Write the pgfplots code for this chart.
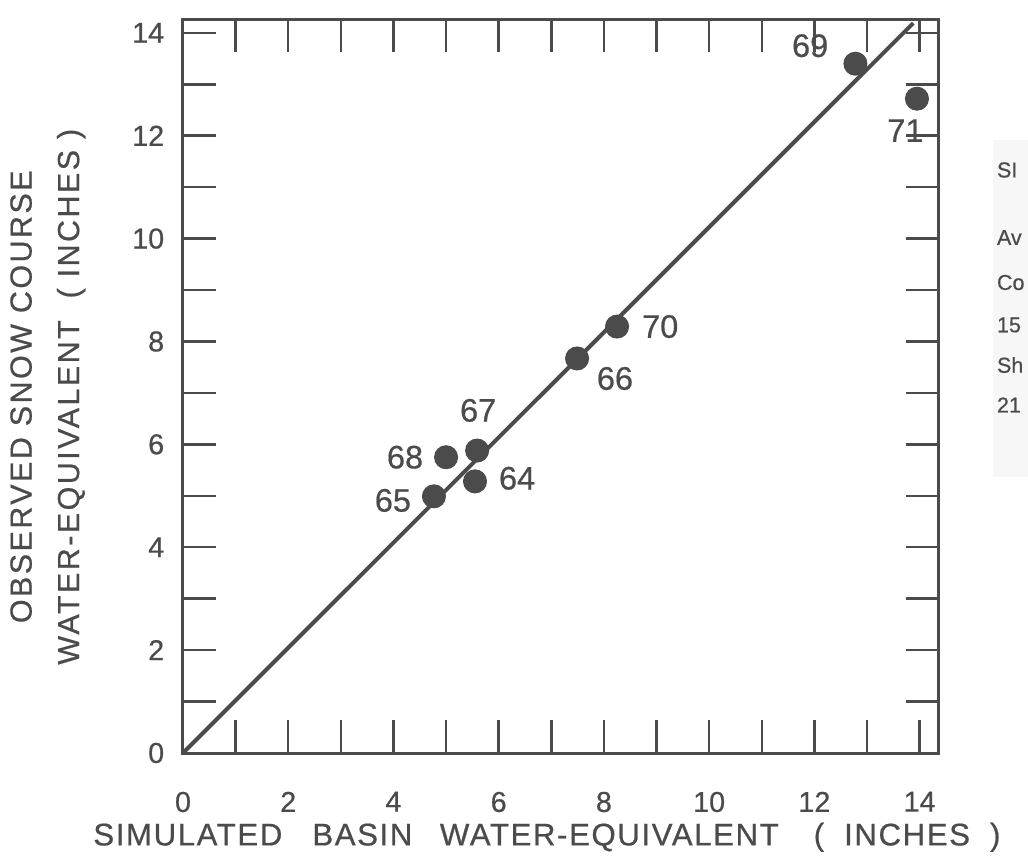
\documentclass[border=0pt]{standalone}
\usepackage{fontspec}
\setmainfont{Liberation Sans}[FakeBold=0.6]
\newfontfamily\labfont[LetterSpace=8, FakeBold=0.6]{Liberation Sans}
\newfontfamily\xlabfont[LetterSpace=5, FakeBold=0.6]{Liberation Sans}
\usepackage{pgfplots}
\pgfplotsset{compat=1.18}
\definecolor{ink}{RGB}{75,75,75}

\begin{document}
\begin{tikzpicture}
\begin{axis}[
    scale only axis,
    width=302pt, height=293.2pt,
    xmin=0, xmax=14.35,
    ymin=0, ymax=14.25,
    xtick={0,2,...,14}, ytick={0,2,...,14},
    minor xtick={1,3,...,13}, minor ytick={1,3,...,13},
    tick align=inside,
    major tick length=13pt, minor tick length=13pt,
    tick style={ink, line width=1pt},
    axis line style={ink, line width=1.2pt},
    /pgf/number format/assume math mode=true,
    ticklabel style={font=\fontsize{11.5}{11.5}\selectfont, text=ink},
    xticklabel style={yshift=-12pt},
    yticklabel style={xshift=-4pt},
    xlabel={SIMULATED\hspace{12pt}BASIN\hspace{11pt}WATER-EQUIVALENT\hspace{14pt}(\hspace{8pt}INCHES\hspace{8pt})},
    xlabel style={at={(axis description cs:0.482,-0.115)}, anchor=center,
        font=\xlabfont\fontsize{12.5}{12.5}\selectfont, text=ink},
    ylabel={OBSERVED\ SNOW\ COURSE\\WATER-EQUIVALENT\ \ (\ INCHES\ )},
    ylabel style={at={(axis description cs:-0.179,0.486)}, anchor=center,
        align=center, font=\labfont\fontsize{12.2}{19}\selectfont, text=ink},
]
% one to one line
\addplot[ink, line width=1.6pt] coordinates {(0,0) (13.88,14.19)};
% seasons 1964-1971
\addplot[only marks, mark=*, mark size=4.6pt, mark options={fill=ink, draw=ink}]
    coordinates {
    (5.55,5.28) (4.77,4.99) (7.49,7.67) (5.59,5.88)
    (5.00,5.75) (12.78,13.40) (8.25,8.29) (13.95,12.72)
    };
\node[font=\fontsize{13}{13}\selectfont, text=ink] at (axis cs:6.35,5.34) {64};
\node[font=\fontsize{13}{13}\selectfont, text=ink] at (axis cs:3.99,4.91) {65};
\node[font=\fontsize{13}{13}\selectfont, text=ink] at (axis cs:8.21,7.28) {66};
\node[font=\fontsize{13}{13}\selectfont, text=ink] at (axis cs:5.61,6.66) {67};
\node[font=\fontsize{13}{13}\selectfont, text=ink] at (axis cs:4.22,5.75) {68};
\node[font=\fontsize{13}{13}\selectfont, text=ink] at (axis cs:11.92,13.75) {69};
\node[font=\fontsize{13}{13}\selectfont, text=ink] at (axis cs:9.07,8.29) {70};
\node[font=\fontsize{13}{13}\selectfont, text=ink] at (axis cs:13.73,12.10) {71};
\coordinate (ll) at (rel axis cs:0,0);
\coordinate (ur) at (rel axis cs:1,1);
\end{axis}
% edge of the neighbouring figure
\fill[gray!6] ([xshift=22pt,yshift=-48pt]ur) rectangle ([xshift=60pt,yshift=-183pt]ur);
\begin{scope}[every node/.style={anchor=west, inner sep=0pt, text=ink, font=\fontsize{8.6}{9}\selectfont}]
\node at ([xshift=23.4pt,yshift=-60pt]ur) {SI};
\node at ([xshift=23.4pt,yshift=-87pt]ur) {Av};
\node at ([xshift=23.4pt,yshift=-105pt]ur) {Co};
\node at ([xshift=23.4pt,yshift=-122pt]ur) {15};
\node at ([xshift=23.4pt,yshift=-138pt]ur) {Sh};
\node at ([xshift=23.4pt,yshift=-154pt]ur) {21};
\end{scope}
\pgfresetboundingbox
\path[use as bounding box] ([xshift=-73.2pt,yshift=-43.2pt]ll) rectangle ([xshift=36pt,yshift=8pt]ur);
\end{tikzpicture}
\end{document}
